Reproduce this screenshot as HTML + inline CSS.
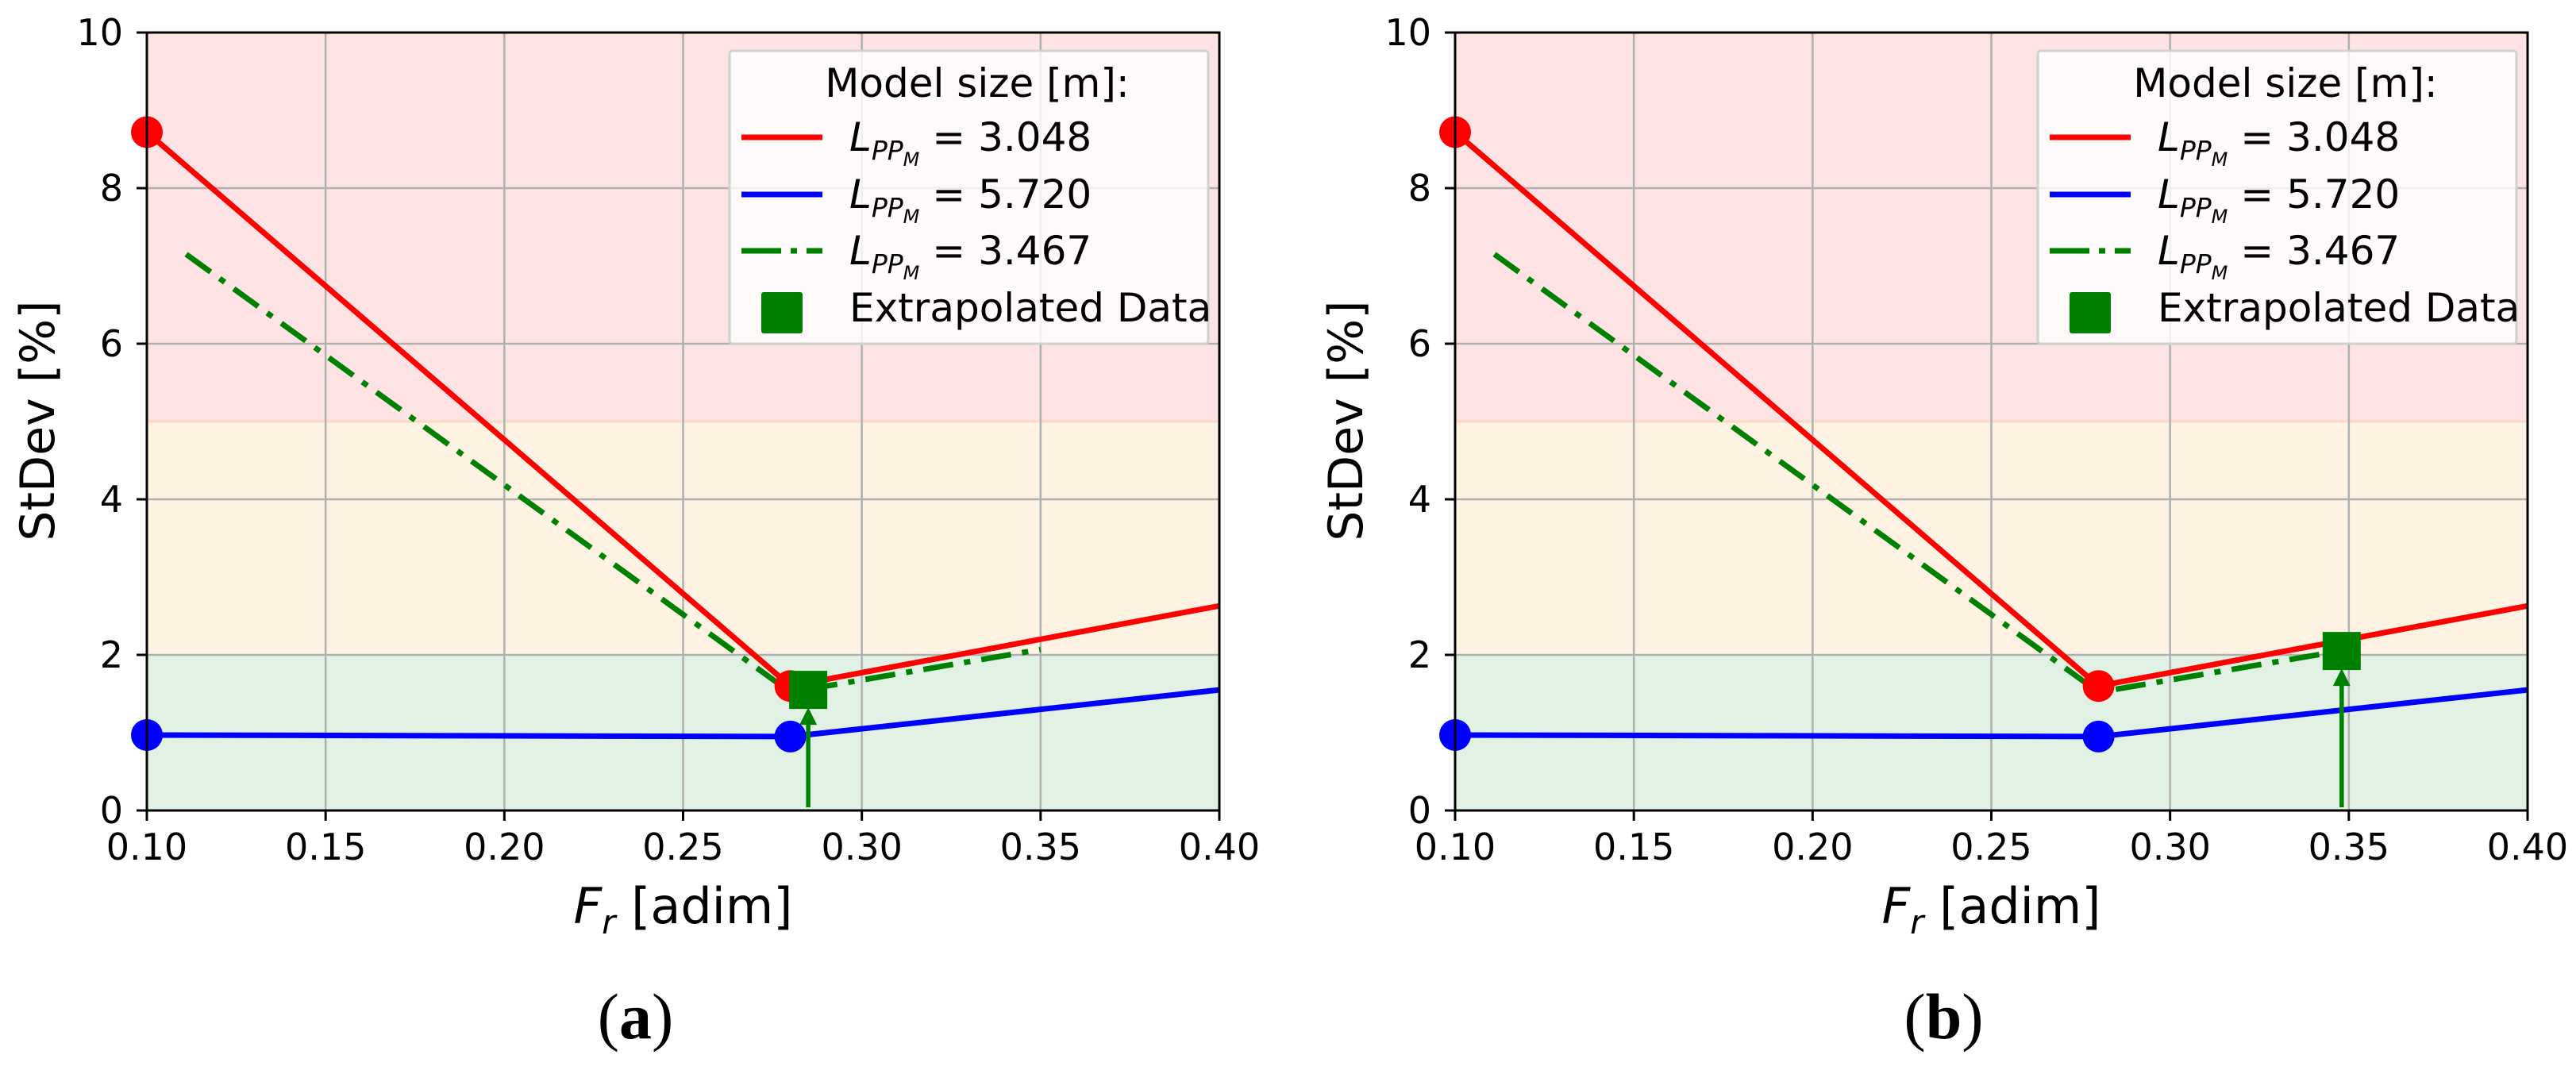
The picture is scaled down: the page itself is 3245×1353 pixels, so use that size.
<!DOCTYPE html>
<html><head><meta charset="utf-8"><style>
html,body{margin:0;padding:0;background:#fff}
svg text{font-family:"DejaVu Sans","Liberation Sans",sans-serif}
</style></head><body>
<svg id="fig" width="3245" height="1348" viewBox="0 0 3245 1348" xmlns="http://www.w3.org/2000/svg"></svg>
<script>
const xTicks=[0.10,0.15,0.20,0.25,0.30,0.35,0.40];
const yTicks=[0,2,4,6,8,10];
const bandLo=[0,2,5];
const bandHi=[2,5,10];
const bandColors=['#e1f1e4','#fef3e2','#fde3e3'];
const redX=[0.10,0.28,0.40];
const redY=[8.72,1.60,2.63];
const blueX=[0.10,0.28,0.40];
const blueY=[0.97,0.95,1.55];
const greenX=[0.111,0.28,0.35];
const greenY=[7.15,1.52,2.07];
const redMarkX=[0.10,0.28];
const redMarkY=[8.72,1.60];
const blueMarkX=[0.10,0.28];
const blueMarkY=[0.97,0.95];
const extraX=[0.285,0.348];
const extraY=[1.55,2.05];
const panelLabels=['(a)','(b)'];
const legendLabels=['3.048','5.720','3.467'];

const NS='http://www.w3.org/2000/svg';
const svg=document.getElementById('fig');
function mk(tag,attrs,parent){const e=document.createElementNS(NS,tag);for(const k in attrs)e.setAttribute(k,attrs[k]);(parent||svg).appendChild(e);return e;}

const panels=[{L:185,R:1536},{L:1833,R:3184}];
const T=41,B=1021;
panels.forEach((p,pi)=>{
  const g=mk('g',{});
  
  
  const sx=v=>p.L+(v-0.10)/(0.30)*(p.R-p.L);
  const sy=v=>B-(v/10)*(B-T);
  bandLo.forEach((lo,i)=>{
    const r=mk('rect',{x:p.L,y:sy(bandHi[i]),width:p.R-p.L,height:sy(lo)-sy(bandHi[i]),fill:bandColors[i]},g);
    
    
  });
  mk('line',{x1:p.L,x2:p.R,y1:sy(5),y2:sy(5),stroke:'#fcd9c4','stroke-width':3},g);
  xTicks.forEach(t=>{
    const x=sx(t);
    mk('line',{x1:x,x2:x,y1:T,y2:B,stroke:'#b0b0b0','stroke-width':2.5},g);
    mk('line',{x1:x,x2:x,y1:B,y2:B+13,stroke:'#000','stroke-width':3},g);
    const tx=mk('text',{x:x,y:1083,'font-size':46,'text-anchor':'middle',fill:'#000'},g);
    tx.textContent=t.toFixed(2);
    
    
  });
  yTicks.forEach(t=>{
    const y=sy(t);
    mk('line',{x1:p.L,x2:p.R,y1:y,y2:y,stroke:'#b0b0b0','stroke-width':2.5},g);
    mk('line',{x1:p.L-13,x2:p.L,y1:y,y2:y,stroke:'#000','stroke-width':3},g);
    const tx=mk('text',{x:p.L-30,y:y+16,'font-size':46,'text-anchor':'end',fill:'#000'},g);
    tx.textContent=t;
    
    
  });
  const pts=(xs,ys)=>xs.map((v,i)=>sx(v)+','+sy(ys[i])).join(' ');
  const rl=mk('polyline',{points:pts(redX,redY),fill:'none',stroke:'#ff0000','stroke-width':7},g);
  
  
  const bl=mk('polyline',{points:pts(blueX,blueY),fill:'none',stroke:'#0000ff','stroke-width':7},g);
  
  
  const gl=mk('polyline',{points:pts(greenX,greenY),fill:'none',stroke:'#008000','stroke-width':7,'stroke-dasharray':'38 14 8 14'},g);
  
  
  redMarkX.forEach((v,i)=>{const c=mk('circle',{cx:sx(v),cy:sy(redMarkY[i]),r:20,fill:'#ff0000'},g);
    });
  blueMarkX.forEach((v,i)=>{const c=mk('circle',{cx:sx(v),cy:sy(blueMarkY[i]),r:20,fill:'#0000ff'},g);
    });
  const ex=sx(extraX[pi]),ey=sy(extraY[pi]);
  const ar=mk('line',{x1:ex,x2:ex,y1:B-4,y2:ey+32,stroke:'#008000','stroke-width':5.5},g);
  
  
  mk('polygon',{points:`${ex-11},${ey+44} ${ex+11},${ey+44} ${ex},${ey+22}`,fill:'#008000'},g);
  const sq=mk('rect',{x:ex-24,y:ey-24,width:48,height:48,fill:'#008000'},g);
  
  
  mk('rect',{x:p.L,y:T,width:p.R-p.L,height:B-T,fill:'none',stroke:'#000','stroke-width':3},g);
  // legend
  const lg=mk('g',{},g);
  
  
  const lx=p.L+734;
  mk('rect',{x:lx,y:64,width:603,height:369,fill:'#ffffff','fill-opacity':0.8,stroke:'#d0d0d0','stroke-width':3,rx:4},lg);
  const tt=mk('text',{x:lx+312,y:122,'font-size':50,'text-anchor':'middle'},lg);tt.textContent='Model size [m]:';
  const cols=['#ff0000','#0000ff','#008000'];
  const ys=[190,262,333];
  ys.forEach((y,i)=>{
    mk('line',{x1:lx+15,x2:lx+117,y1:y-17,y2:y-17,stroke:cols[i],'stroke-width':7,'stroke-dasharray':i==2?'50 12 8 12':'none'},lg);
    const t=mk('text',{x:lx+151,y:y,'font-size':50},lg);
    
    
    t.innerHTML='<tspan font-style="italic">L</tspan><tspan font-style="italic" font-size="33" dy="11">PP</tspan><tspan font-style="italic" font-size="24" dy="8">M</tspan><tspan dy="-19"> = '+legendLabels[i]+'</tspan>';
  });
  mk('rect',{x:lx+40,y:368,width:52,height:52,fill:'#008000',rx:3},lg);
  const et=mk('text',{x:lx+151,y:405,'font-size':50},lg);et.textContent='Extrapolated Data';
  
  
  // axis titles
  const yl=mk('text',{x:0,y:0,'font-size':60,'text-anchor':'middle',transform:`translate(${p.L-117},${530}) rotate(-90)`},g);
  yl.textContent='StDev [%]';
  
  
  const xl=mk('text',{x:(p.L+p.R)/2,y:1163,'font-size':62,'text-anchor':'middle'},g);
  xl.innerHTML='<tspan font-style="italic">F</tspan><tspan font-style="italic" font-size="42" dy="13">r</tspan><tspan dy="-13"> [adim]</tspan>';
  
  
  const pl=mk('text',{x:(p.L+p.R)/2-60,y:1308,'font-size':82,'text-anchor':'middle',style:'font-family:"Liberation Serif",serif'},g);
  pl.innerHTML='(<tspan font-weight="bold">'+panelLabels[pi].slice(1,2)+'</tspan>)';
  
  
});
</script>
</body></html>
